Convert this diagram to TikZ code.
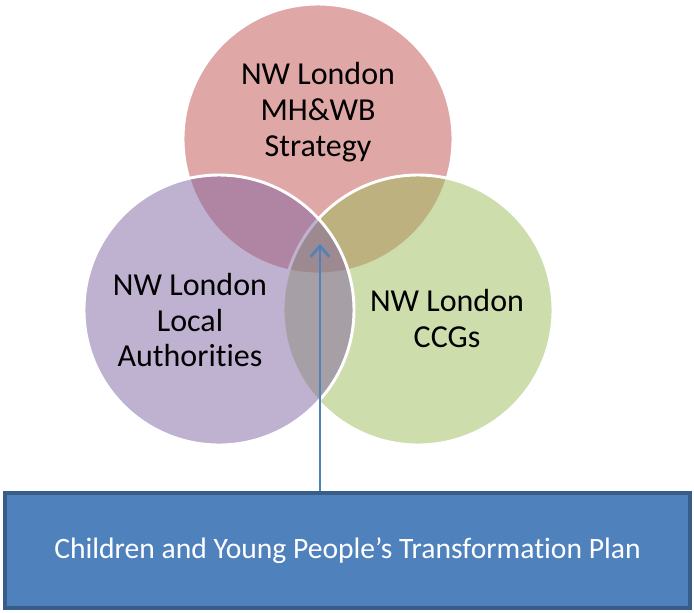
\documentclass[tikz,border=0pt]{standalone}
\usepackage{fontspec}
\setmainfont{Carlito}[RawFeature={-liga,-calt,-dlig,-clig}]
\usetikzlibrary{positioning,arrows.meta}

\definecolor{venn-red}{HTML}{C0504D}
\definecolor{venn-purple}{HTML}{8064A2}
\definecolor{venn-green}{HTML}{9BBB59}
\definecolor{plan-blue}{HTML}{4F81BD}
\definecolor{plan-edge}{HTML}{385D8A}

\begin{document}
\begin{tikzpicture}
[x=0.75pt, y=-0.75pt,
venn/.style={circle, draw=white, line width=2.2pt, minimum size=202.5pt, inner sep=0pt, fill opacity=0.5},
text-a/.style={black, align=center, font=\fontsize{24}{27}\selectfont},
plan-box/.style={draw=plan-edge, fill=plan-blue, line width=2.6pt, minimum width=513.75pt, minimum height=86.25pt},
link/.style={plan-blue, line width=2pt, -{Straight Barb[length=8pt, width=14pt]}}
]

\useasboundingbox (0,0) rectangle (694,612);

% the three overlapping circles (purple last, on top)
\node (circle-strategy) [venn, fill=venn-red]    at (318,139) {};
\node (circle-ccg)      [venn, fill=venn-green]  at (418,310) {};
\node (circle-la)       [venn, fill=venn-purple] at (219,310) {};

\node (text-strategy) [text-a] at (318,112) {NW London\\MH\&WB\\Strategy};
\node (text-la)       [text-a] at (190,320) {NW London\\Local\\Authorities};
\node (text-ccg)      [text-a] at (447,318) {NW London\\CCGs};

% plan box and the arrow into the middle
\node (plan) [plan-box, text=white, font=\fontsize{22.2}{26}\selectfont] at (347.5,550.5)
  {Children and Young People’s Transformation Plan};
\coordinate (hub) at (320,244);
\draw [link] (plan.north -| hub) -- (hub);

\end{tikzpicture}
\end{document}
